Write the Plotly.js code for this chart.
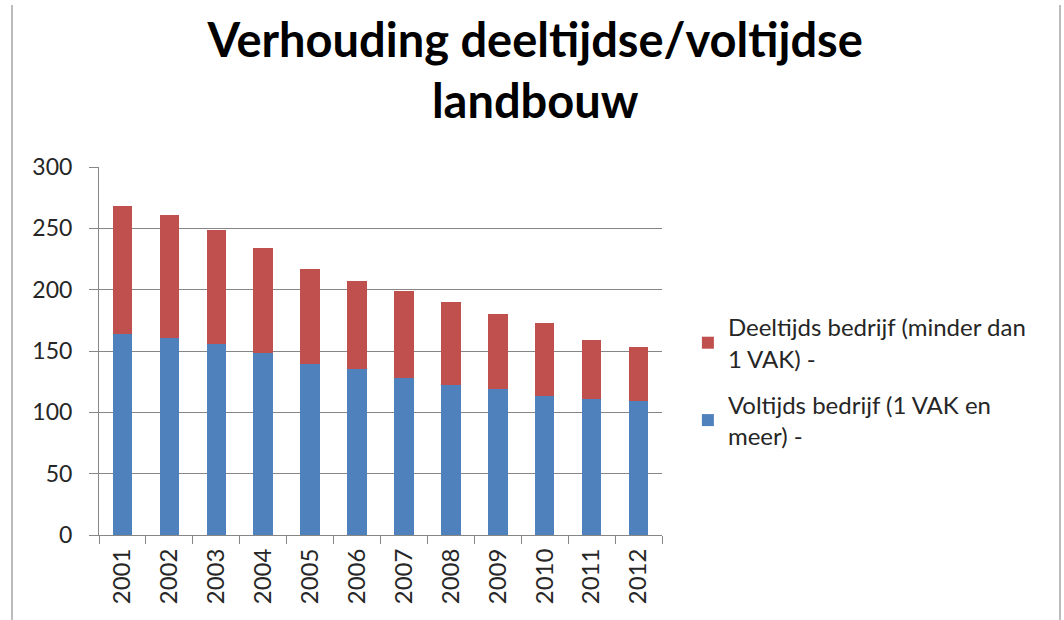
<!DOCTYPE html>
<html>
<head>
<meta charset="utf-8">
<script src="https://cdn.plot.ly/plotly-3.0.1.min.js"></script>
<style>
  html, body { margin: 0; padding: 0; background: #ffffff; }
  #chart { width: 1064px; height: 620px; }
</style>
</head>
<body>
<div id="chart"></div>
<script>
const years = ["2001","2002","2003","2004","2005","2006","2007","2008","2009","2010","2011","2012"];
const voltijds = [164, 161, 156, 148, 139, 135, 128, 122, 119, 113, 111, 109];
const deeltijds = [104, 100, 93, 86, 78, 72, 71, 68, 61, 60, 48, 44];
const yTicks = [0, 50, 100, 150, 200, 250, 300];
const nameVoltijds = "Voltijds bedrijf (1 VAK en<br>meer) -";
const nameDeeltijds = "Deeltijds bedrijf (minder dan<br>1 VAK) -";
const titleText = "Verhouding deeltijdse/voltijdse<br>landbouw";

const traces = [
  { type: "bar", x: years, y: voltijds, name: nameVoltijds, legendgroup: "v", legendrank: 2,
    marker: { color: "#4F81BD" }, hoverinfo: "none" },
  { type: "bar", x: years, y: deeltijds, name: nameDeeltijds, legendgroup: "d", legendrank: 1,
    marker: { color: "#C0504D" }, hoverinfo: "none" }
];

const layout = {
  width: 1064, height: 620,
  paper_bgcolor: "#ffffff", plot_bgcolor: "#ffffff",
  margin: { l: 99, r: 402, t: 167, b: 85, pad: 0 },
  barmode: "stack",
  bargap: 0.585,
  font: { family: "Lato, 'Open Sans', sans-serif", color: "#262626" },
  title: {
    text: titleText,
    font: { family: "Lato, 'Open Sans', sans-serif", size: 47, weight: "bold", color: "#000000" },
    xref: "container", x: 0.503, xanchor: "center",
    yref: "container", y: 1 - 57/620, yanchor: "top"
  },
  xaxis: {
    type: "category",
    tickangle: -90,
    tickfont: { size: 24, color: "#262626" },
    showline: true, linecolor: "#868686", linewidth: 1,
    ticks: "outside", tickcolor: "#868686", ticklen: 8,
    tickson: "boundaries",
    showgrid: false, zeroline: false,
    ticklabelstandoff: 3
  },
  yaxis: {
    range: [0, 300],
    tickvals: yTicks,
    tickfont: { size: 23, color: "#262626" },
    showline: true, linecolor: "#868686", linewidth: 1,
    ticks: "outside", tickcolor: "#868686", ticklen: 9,
    showgrid: true, gridcolor: "#868686", gridwidth: 1,
    zeroline: false,
    ticklabelstandoff: 12
  },
  legend: {
    x: 1.046, xanchor: "left",
    y: 0.625, yanchor: "top",
    traceorder: "grouped",
    tracegroupgap: 12,
    font: { size: 24, color: "#262626" },
    bgcolor: "rgba(0,0,0,0)"
  },
  shapes: [
    { type: "line", xref: "paper", yref: "paper",
      x0: (12-99)/563, x1: (12-99)/563, y0: (535-5)/368, y1: (535-620)/368,
      line: { color: "#A6A6A6", width: 1.5 } },
    { type: "line", xref: "paper", yref: "paper",
      x0: (1060-99)/563, x1: (1060-99)/563, y0: (535-5)/368, y1: (535-620)/368,
      line: { color: "#A6A6A6", width: 1.5 } }
  ],
  showlegend: true
};

Plotly.newPlot("chart", traces, layout, { displayModeBar: false, staticPlot: true });
</script>
</body>
</html>
